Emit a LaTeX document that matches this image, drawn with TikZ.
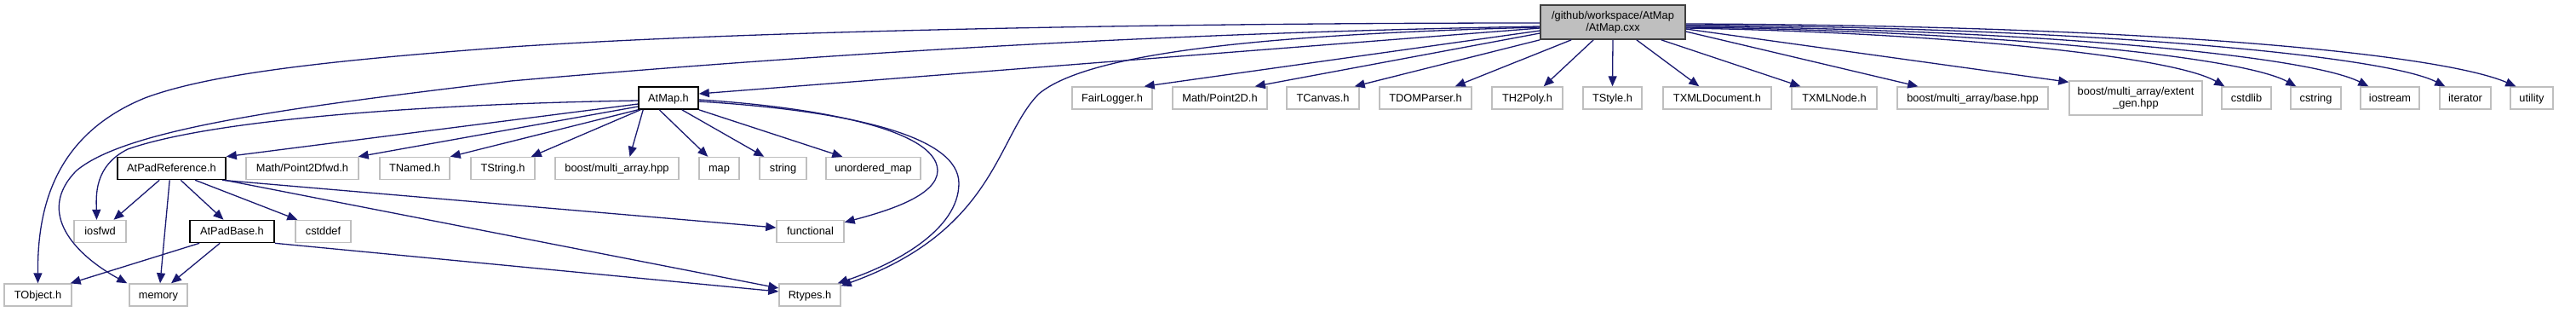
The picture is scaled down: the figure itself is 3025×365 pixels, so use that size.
\documentclass[tikz,border=0pt]{standalone}
\usepackage{fontspec}
\setmainfont{Liberation Sans}
\usetikzlibrary{arrows.meta}
\definecolor{edgecol}{HTML}{191970}
\definecolor{boxgray}{HTML}{BFBFBF}
\definecolor{mainfill}{HTML}{BFBFBF}
\definecolor{maindraw}{HTML}{404040}
\begin{document}
\begin{tikzpicture}[x=1pt,y=-1pt,
  every node/.style={font=\fontsize{12.8}{13.5}\selectfont, inner sep=0pt, minimum height=26pt, align=center},
  oneline/.style={text height=11.6pt, text depth=2.7pt},
  gbox/.style={draw=boxgray, line width=1.4pt, fill=white, oneline},
  bbox/.style={draw=black, line width=1.6pt, fill=white, oneline},
  mbox/.style={draw=maindraw, line width=1.6pt, fill=mainfill, minimum height=40pt},
  dep/.style={draw=edgecol, line width=1.3pt, -{Triangle[length=12pt,width=10pt]}},
]
\useasboundingbox[fill=white] (0,0) rectangle (3025,365);

% row 1
\node[mbox, minimum width=170pt] (main) at (1894,26) {/github/workspace/AtMap\\/AtMap.cxx};
% row 2
\node[bbox, minimum width=70pt] (atmaph) at (785,115) {AtMap.h};
\node[gbox, minimum width=94pt] (fairlogger) at (1306,115) {FairLogger.h};
\node[gbox, minimum width=111pt] (point2d) at (1432.5,115) {Math/Point2D.h};
\node[gbox, minimum width=85pt] (tcanvas) at (1553.5,115) {TCanvas.h};
\node[gbox, minimum width=108pt] (tdom) at (1674,115) {TDOMParser.h};
\node[gbox, minimum width=83pt] (th2poly) at (1793.5,115) {TH2Poly.h};
\node[gbox, minimum width=69pt] (tstyle) at (1893.5,115) {TStyle.h};
\node[gbox, minimum width=127pt] (txmldoc) at (2016.5,115) {TXMLDocument.h};
\node[gbox, minimum width=100pt] (txmlnode) at (2154,115) {TXMLNode.h};
\node[gbox, minimum width=177pt] (mabase) at (2316.5,115) {boost/multi\_array/base.hpp};
\node[gbox, minimum width=156pt, minimum height=40pt, text height=, text depth=] (maextent) at (2508,115) {boost/multi\_array/extent\\\_gen.hpp};
\node[gbox, minimum width=58pt] (cstdlib) at (2638,115) {cstdlib};
\node[gbox, minimum width=59pt] (cstring) at (2719.5,115) {cstring};
\node[gbox, minimum width=69pt] (iostream) at (2806.5,115) {iostream};
\node[gbox, minimum width=60pt] (iterator) at (2895,115) {iterator};
\node[gbox, minimum width=50pt] (utility) at (2973,115) {utility};
% row 3
\node[bbox, minimum width=127pt] (apr) at (201.5,197.5) {AtPadReference.h};
\node[gbox, minimum width=132pt] (p2dfwd) at (355,197.5) {Math/Point2Dfwd.h};
\node[gbox, minimum width=82pt] (tnamed) at (487,197.5) {TNamed.h};
\node[gbox, minimum width=75pt] (tstring) at (590.5,197.5) {TString.h};
\node[gbox, minimum width=145pt] (marray) at (724.5,197.5) {boost/multi\_array.hpp};
\node[gbox, minimum width=47pt] (map) at (844.5,197.5) {map};
\node[gbox, minimum width=55pt] (string) at (919.5,197.5) {string};
\node[gbox, minimum width=111pt] (umap) at (1025.5,197.5) {unordered\_map};
% row 4
\node[gbox, minimum width=61pt] (iosfwd) at (117.5,271.5) {iosfwd};
\node[bbox, minimum width=99pt] (apb) at (272.5,271.5) {AtPadBase.h};
\node[gbox, minimum width=65pt] (cstddef) at (379.5,271.5) {cstddef};
\node[gbox, minimum width=79pt] (functional) at (951.5,271.5) {functional};
% row 5
\node[gbox, minimum width=79pt] (tobject) at (44.5,346) {TObject.h};
\node[gbox, minimum width=68pt] (memory) at (186,346) {memory};
\node[gbox, minimum width=72pt] (rtypes) at (951,346) {Rtypes.h};

% main -> row 2
\draw[dep] ([yshift=-7]main.west) -- ([yshift=5]atmaph.east);
\draw[dep] ([yshift=-10]main.west) -- ([xshift=-10]fairlogger.north east);
\draw[dep] ([yshift=-13]main.west) -- ([xshift=-15]point2d.north east);
\draw[dep] (main.south west) -- ([xshift=-6]tcanvas.north east);
\draw[dep] ([xshift=37]main.south west) -- ([xshift=-20]tdom.north east);
\draw[dep] ([xshift=63]main.south west) -- ([xshift=-23]th2poly.north east);
\draw[dep] (main.south) -- (tstyle.north);
\draw[dep] ([xshift=-58]main.south east) -- ([xshift=43]txmldoc.north west);
\draw[dep] ([xshift=-29]main.south east) -- ([xshift=11]txmlnode.north west);
\draw[dep] ([yshift=-11]main.east) -- ([xshift=25]mabase.north west);
\draw[dep] ([yshift=-8]main.east) -- ([yshift=-2]maextent.north west);
\draw[dep] ([yshift=-7]main.east) .. controls (2270,38) and (2550,65) .. ([xshift=4]cstdlib.north west);
\draw[dep] ([yshift=-6]main.east) .. controls (2320,36) and (2630,65) .. ([xshift=7]cstring.north west);
\draw[dep] ([yshift=-5]main.east) .. controls (2380,34) and (2710,65) .. ([xshift=10]iostream.north west);
\draw[dep] ([yshift=-3.5]main.east) .. controls (2450,32) and (2800,65) .. ([xshift=7]iterator.north west);
\draw[dep] ([yshift=-2]main.east) .. controls (2550,30) and (2870,65) .. ([xshift=7]utility.north west);
% main -> far left
\draw[dep] ([yshift=-1]main.west) .. controls (1400,27) and (900,35) .. (600,55)
   .. controls (400,70) and (250,85) .. (170,115)
   .. controls (60,160) and (44,250) .. (tobject.north);
\draw[dep] ([yshift=-5]main.west) .. controls (1400,38) and (1000,60) .. (600,95)
   .. controls (350,125) and (150,150) .. (90,200)
   .. controls (40,250) and (90,300) .. ([xshift=-2]memory.north west);
\draw[dep] ([yshift=-6]main.west) .. controls (1500,40) and (1280,60) .. (1220,110)
   .. controls (1170,160) and (1170,270) .. ([yshift=-3]rtypes.north east);

% AtMap.h
\draw[dep] ([yshift=-7]atmaph.west) -- (apr.north east);
\draw[dep] ([yshift=-10]atmaph.west) -- ([xshift=-1]p2dfwd.north east);
\draw[dep] (atmaph.south west) -- (tnamed.north east);
\draw[dep] ([xshift=3]atmaph.south west) -- ([xshift=-5]tstring.north east);
\draw[dep] ([xshift=6]atmaph.south west) -- ([xshift=15]marray.north);
\draw[dep] ([xshift=25]atmaph.south west) -- ([xshift=11]map.north west);
\draw[dep] ([xshift=-20]atmaph.south east) -- ([xshift=6]string.north west);
\draw[dep] (atmaph.south east) -- ([xshift=20]umap.north west);
\draw[dep] ([yshift=-3]atmaph.west) .. controls (500,122) and (250,140) .. (150,175)
   .. controls (110,195) and (113,230) .. ([xshift=-4]iosfwd.north);
\draw[dep] ([yshift=-2]atmaph.east) .. controls (950,125) and (1100,150) .. (1101,200)
   .. controls (1101,230) and (1040,248) .. ([yshift=-3]functional.north east);
\draw[dep] ([yshift=-4]atmaph.east) .. controls (1000,130) and (1126,160) .. (1126,215)
   .. controls (1126,270) and (1050,310) .. ([xshift=-4]rtypes.north east);

% AtPadReference.h
\draw[dep] ([xshift=50]apr.south west) -- ([xshift=16]iosfwd.north);
\draw[dep] ([xshift=62]apr.south west) -- ([xshift=2]memory.north);
\draw[dep] ([xshift=75]apr.south west) -- ([xshift=-10]apb.north);
\draw[dep] ([xshift=92]apr.south west) -- ([xshift=3]cstddef.north west);
\draw[dep] ([xshift=-5]apr.south east) -- ([yshift=4.5]functional.west);
\draw[dep] ([xshift=-2]apr.south east) -- ([yshift=8]rtypes.west);

% AtPadBase.h
\draw[dep] ([xshift=12]apb.south west) -- ([xshift=-2]tobject.north east);
\draw[dep] ([xshift=36]apb.south west) -- ([xshift=15]memory.north);
\draw[dep] (apb.south east) -- ([yshift=4]rtypes.west);
\end{tikzpicture}
\end{document}
